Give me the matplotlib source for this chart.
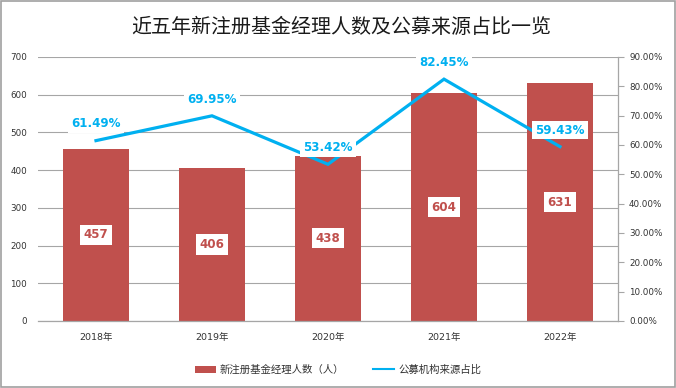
import matplotlib
matplotlib.use("Agg")
import matplotlib.pyplot as plt
from matplotlib.patches import Rectangle, Patch
from matplotlib.lines import Line2D
from matplotlib.ticker import FuncFormatter

plt.rcParams['font.family'] = ['DejaVu Sans', 'Noto Sans CJK SC']

title = "近五年新注册基金经理人数及公募来源占比一览"
years = ["2018年", "2019年", "2020年", "2021年", "2022年"]
managers = [457, 406, 438, 604, 631]
public_ratio = [61.49, 69.95, 53.42, 82.45, 59.43]
bar_label = "新注册基金经理人数（人）"
line_label = "公募机构来源占比"

bar_color = "#C0504D"
line_color = "#00B0F0"
grid_color = "#A6A6A6"
text_color = "#333333"

fig = plt.figure(figsize=(6.76, 3.88), dpi=100)
ax = fig.add_axes([0.0562, 0.1727, 0.9142 - 0.0562, 0.8531 - 0.1727])
ax2 = ax.twinx()

x = list(range(len(years)))
ax.bar(x, managers, width=0.57, color=bar_color, zorder=2)
ax.set_ylim(0, 700)
ax.set_yticks(range(0, 701, 100))
ax.set_xlim(-0.5, len(years) - 0.5)
ax.set_xticks(x)
ax.set_xticklabels(years, fontsize=6.8, color=text_color)
ax.tick_params(axis='x', length=0, pad=9)
ax.tick_params(axis='y', length=0, pad=8, labelsize=6.3, labelcolor=text_color)
ax.grid(axis='y', color=grid_color, lw=0.8, zorder=0)
ax.set_axisbelow(True)
for s in ['top', 'left', 'right']:
    ax.spines[s].set_visible(False)
ax.spines['bottom'].set_color(grid_color)
ax.spines['bottom'].set_linewidth(0.9)

for xi, v in zip(x, managers):
    ax.text(xi, v / 2, str(v), ha='center', va='center', fontsize=8.6,
            fontweight='bold', color=bar_color, zorder=5,
            bbox=dict(boxstyle='square,pad=0.3', fc='white', ec='none'))

ratio = [p / 100 for p in public_ratio]
ax2.plot(x, ratio, color=line_color, lw=2.3, zorder=3, solid_joinstyle='miter')
ax2.set_ylim(0, 0.9)
ax2.set_yticks([i / 10 for i in range(10)])
ax2.yaxis.set_major_formatter(FuncFormatter(lambda v, p: f"{v*100:.2f}%"))
ax2.tick_params(axis='y', length=4, width=0.8, color=grid_color, pad=4,
                labelsize=6.3, labelcolor=text_color)
for s in ['top', 'left', 'bottom']:
    ax2.spines[s].set_visible(False)
ax2.spines['right'].set_color(grid_color)
ax2.spines['right'].set_linewidth(0.9)

for xi, v, p in zip(x, ratio, public_ratio):
    ax2.annotate(f"{p:.2f}%", (xi, v), xytext=(0, 12), textcoords='offset points',
                 ha='center', va='center', fontsize=8.6, fontweight='bold',
                 color=line_color, zorder=6,
                 bbox=dict(boxstyle='square,pad=0.25', fc='white', ec='none'))

fig.text(0.505, 0.930, title, ha='center', va='center', fontsize=14.4,
         color="#1a1a1a", family=['Noto Sans CJK SC', 'DejaVu Sans'])

handles = [Patch(facecolor=bar_color, edgecolor='none'),
           Line2D([0], [0], color=line_color, lw=1.5)]
leg = fig.legend(handles, [bar_label, line_label], loc='center',
                 bbox_to_anchor=(0.5, 0.047), ncol=2, frameon=False,
                 handlelength=2.0, handleheight=0.6,
                 handletextpad=0.4, columnspacing=2.8,
                 prop={'family': ['Noto Sans CJK SC', 'DejaVu Sans'], 'size': 7.5})
for t in leg.get_texts():
    t.set_color(text_color)

fig.patches.append(Rectangle((0.0015, 0.0025), 0.997, 0.995, transform=fig.transFigure,
                             fill=False, ec="#A0A0A0", lw=1.2))

fig.savefig("out.png", dpi=100)
